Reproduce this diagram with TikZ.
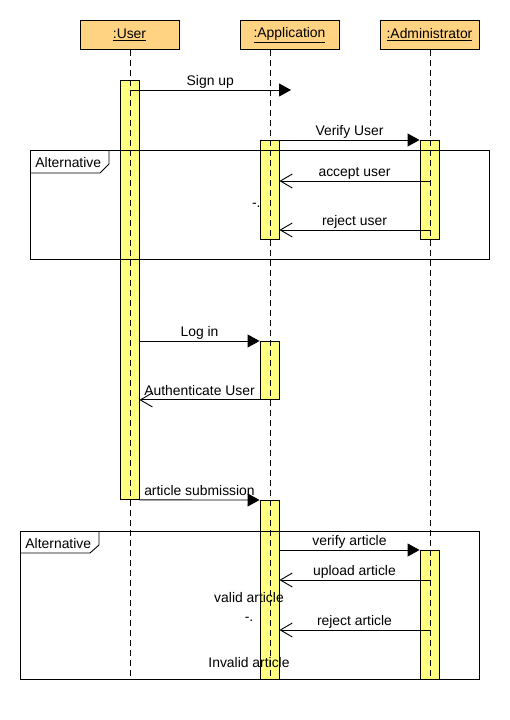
\documentclass[tikz,border=0pt]{standalone}
\usepackage{fontspec}
\setmainfont{Liberation Sans}
\usetikzlibrary{arrows.meta}
\definecolor{headfill}{HTML}{FFD381}
\definecolor{actfill}{HTML}{FFFF80}
\begin{document}
\begin{tikzpicture}[x=1pt,y=-1pt, line width=0.9pt,
  every node/.style={font=\fontsize{13.9}{16}\selectfont},
  head/.style={draw, fill=headfill, minimum width=99pt, minimum height=29pt, inner sep=0pt, anchor=north},
  actbox/.style={draw, fill=actfill, minimum width=19pt, inner sep=0pt, anchor=north},
  life/.style={dash pattern=on 6pt off 4pt},
  call/.style={-{Triangle[length=12pt,width=13pt]}},
  ret/.style={-{Straight Barb[length=12pt,width=14pt]}},
  msg/.style={anchor=base, inner sep=0pt, yshift=4.5pt},
  txt/.style={anchor=base, inner sep=0pt},
  altframe/.style={draw, inner sep=0pt, anchor=north west},
  tab/.style={anchor=base west, inner sep=0pt}]
\useasboundingbox (0,0) rectangle (510,720);

% headers
\node[head] (user) at (129.5,20) {\underline{:User}};
\node[head] (app) at (289.5,20) {\underline{:Application}};
\node[head] (adm) at (429.5,20) {\underline{:Administrator}};

% text partly hidden behind activation
\node[txt, anchor=base east] (dash1) at (261,207) {-.};

% activations
\node[actbox, minimum height=419pt] (ua) at (129.5,80) {};
\node[actbox, minimum height=99pt] (aa1) at (269.5,140) {};
\node[actbox, minimum height=99pt] (ad1) at (429.5,140) {};
\node[actbox, minimum height=58pt] (aa2) at (269.5,341) {};
\node[actbox, minimum height=179pt] (aa3) at (269.5,500) {};
\node[actbox, minimum height=129pt] (ad2) at (429.5,550) {};

% lifelines
\coordinate (ubot) at (130,679);
\coordinate (pbot) at (270,679);
\coordinate (dbot) at (430,679);
\draw[life] (user.south -| ubot) -- (ubot);
\draw[life] (app.south -| pbot) -- (pbot);
\draw[life] (adm.south -| dbot) -- (dbot);

% frames
\node[altframe, minimum width=459pt, minimum height=109pt] (alt1) at (30,150) {};
\draw ([yshift=-23pt]alt1.north west) -- ++(70,0) -- ++(9,-9) -- ++(0,-14);
\node[tab] (alt1l) at (35,167) {Alternative};
\node[altframe, minimum width=459pt, minimum height=148pt] (alt2) at (20,531) {};
\draw ([yshift=-22pt]alt2.north west) -- ++(70,0) -- ++(9,-8) -- ++(0,-14);
\node[tab] (alt2l) at (25,548) {Alternative};

% messages
\coordinate (su) at (291,90);
\draw[call] (ua.north |- su) -- (su) node[msg, midway] {Sign up};
\draw[call] (aa1.north east) -- (ad1.north west) node[msg, midway] {Verify User};
\draw[ret] ([yshift=-41pt]ad1.north) -- ([yshift=-41pt]aa1.north east) node[msg, midway] {accept user};
\draw[ret] ([yshift=-90pt]ad1.north) -- ([yshift=-90pt]aa1.north east) node[msg, midway] {reject user};
\draw[call] (ua.east |- aa2.north) -- (aa2.north west) node[msg, midway] {Log in};
\draw[ret] (aa2.south west) -- (ua.east |- aa2.south) node[msg, midway] {Authenticate User};
\draw[call] (ua.south east) -- (aa3.north west) node[msg, midway] {article submission};
\draw[call] (aa3.east |- ad2.north) -- (ad2.north west) node[msg, midway] {verify article};
\draw[ret] ([yshift=-30pt]ad2.north) -- ([yshift=-30pt]ad2.north -| aa3.east) node[msg, midway] {upload article};
\draw[ret] ([yshift=-80pt]ad2.north) -- ([yshift=-80pt]ad2.north -| aa3.east) node[msg, midway] {reject article};

% free texts
\node[txt] (valid) at (249,602) {valid article};
\node[txt] (dash2) at (249,621) {-.};
\node[txt] (invalid) at (249,667) {Invalid article};
\end{tikzpicture}
\end{document}
